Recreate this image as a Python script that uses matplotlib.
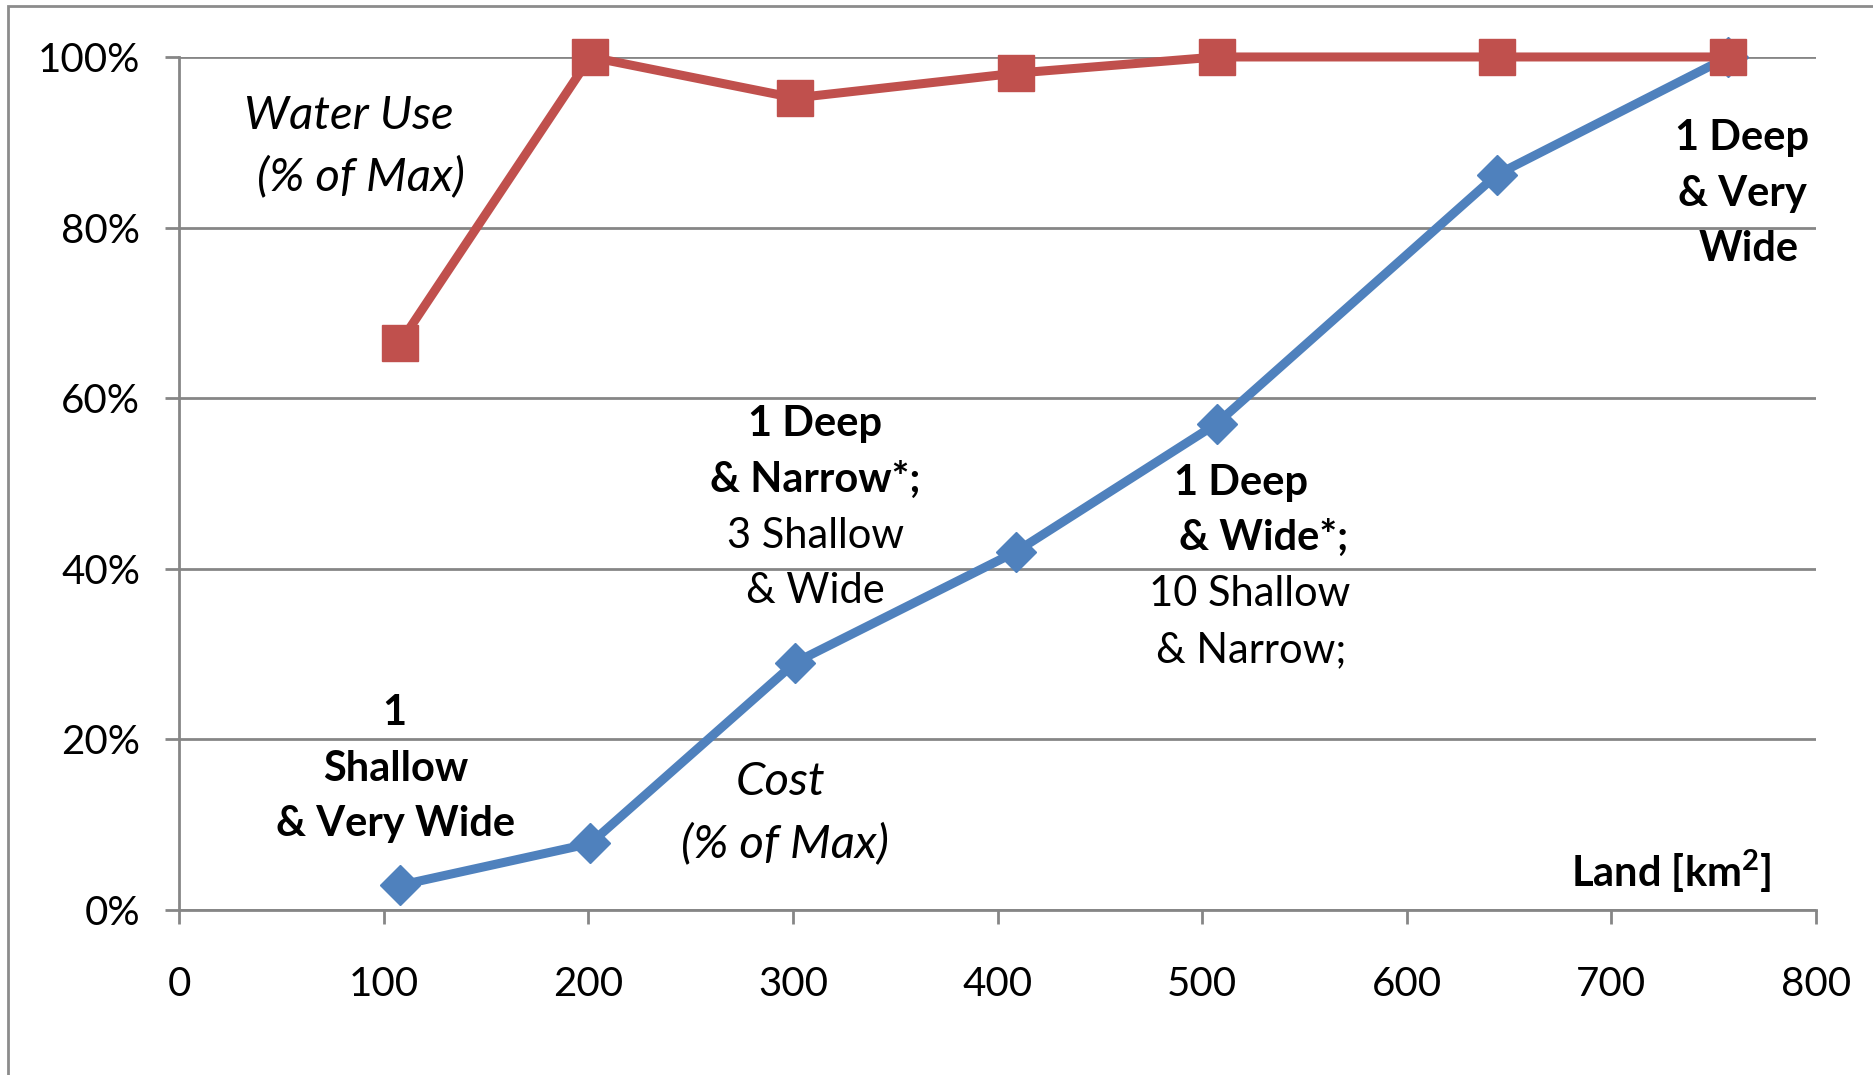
import matplotlib.pyplot as plt
from matplotlib.patches import Rectangle
from matplotlib.ticker import FuncFormatter

plt.rcParams['font.family'] = ['Lato', 'DejaVu Sans']
plt.rcParams['mathtext.fontset'] = 'custom'
plt.rcParams['mathtext.rm'] = 'Lato'
plt.rcParams['mathtext.bf'] = 'Lato:bold'

# data (land in km2, shares in % of max)
land = [108, 201, 301, 409, 507, 644, 757]
water_use = [66.5, 100, 95.2, 98.1, 100, 100, 100]
cost = [2.9, 7.8, 29.0, 42.0, 57.0, 86.2, 100]

x_ticks = [0, 100, 200, 300, 400, 500, 600, 700, 800]
y_ticks = [0, 20, 40, 60, 80, 100]

red = '#C0504D'
blue = '#4F81BD'
grey = '#868686'

fig = plt.figure(figsize=(18.73, 10.75), dpi=100)
ax = fig.add_axes([0.0956, 0.1535, 0.8740, 0.7935])

# border of the chart area (as in the spreadsheet)
fig.add_artist(Rectangle((8 / 1873, -0.1), 2, 1.1 - 6 / 1075, transform=fig.transFigure,
                         fill=False, edgecolor='#8c8c8c', linewidth=2))

ax.plot(land, cost, color=blue, lw=6.5, marker='D', ms=20, clip_on=False, zorder=3)
ax.plot(land, water_use, color=red, lw=6.5, marker='s', ms=26, clip_on=False, zorder=3)

ax.set_xlim(0, 800)
ax.set_ylim(0, 100)
ax.set_xticks(x_ticks)
ax.set_yticks(y_ticks)
ax.yaxis.set_major_formatter(FuncFormatter(lambda v, p: f'{v:.0f}%'))
ax.tick_params(axis='both', labelsize=29, color=grey, width=2, length=10, direction='out')
ax.tick_params(axis='x', pad=30)
ax.tick_params(axis='y', pad=18)
ax.grid(axis='y', color=grey, lw=2)
ax.set_axisbelow(True)
for s in ['top', 'right']:
    ax.spines[s].set_visible(False)
for s in ['left', 'bottom']:
    ax.spines[s].set_color(grey)
    ax.spines[s].set_linewidth(2)

fs = 30
def txt(x, y, s, size=fs, **kw):
    ax.text(x, y, s, fontsize=size, ha='center', va='center', **kw)

txt(83, 93.1, 'Water Use', size=34, style='italic')
txt(89, 86.0, '(% of Max)', size=34, style='italic')
txt(294, 15.0, 'Cost', size=34, style='italic')
txt(296, 7.8, '(% of Max)', size=34, style='italic')

txt(105, 23.1, '1', weight='bold')
txt(106, 16.5, 'Shallow', weight='bold')
txt(106, 10.1, '& Very Wide', weight='bold')

txt(311, 57.0, '1 Deep', weight='bold')
txt(311, 50.4, '& Narrow*;', weight='bold')
txt(311, 43.8, '3 Shallow')
txt(311, 37.4, '& Wide')

txt(519, 50.0, '1 Deep', weight='bold')
txt(530, 43.6, '& Wide*;', weight='bold')
txt(523, 37.1, '10 Shallow')
txt(524, 30.4, '& Narrow;')

txt(764, 90.5, '1 Deep', weight='bold')
txt(764, 83.9, '& Very', weight='bold')
txt(767, 77.5, 'Wide', weight='bold')

txt(729, 4.6, r'Land [km$^{\mathbf{2}}$]', weight='bold')

fig.savefig('out.png', dpi=100)
